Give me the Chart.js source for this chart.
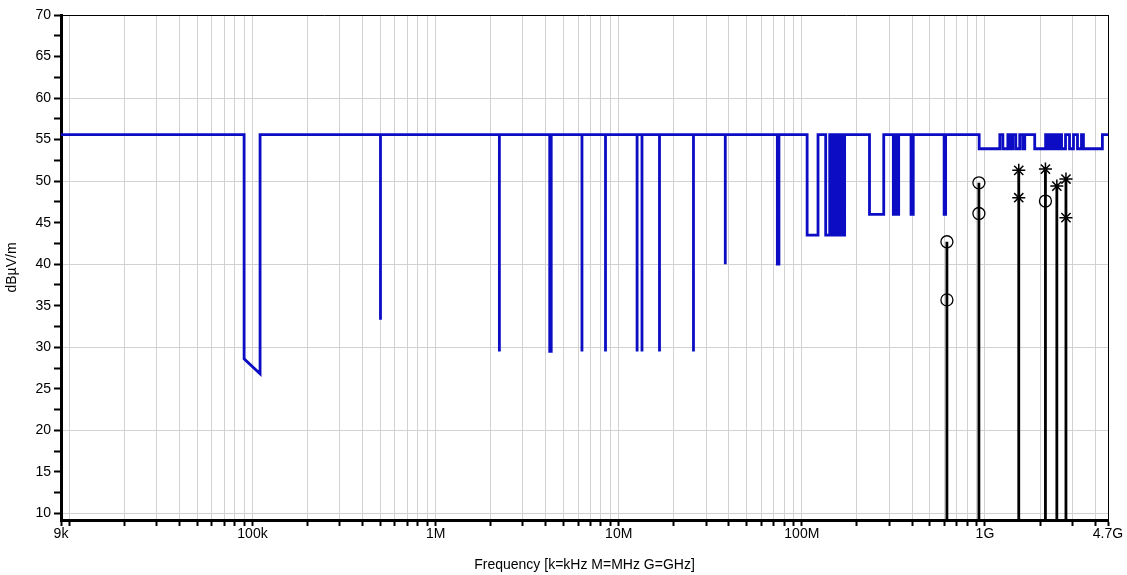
<!DOCTYPE html>
<html>
<head>
<meta charset="utf-8">
<title>Emission scan</title>
<script src="https://cdn.jsdelivr.net/npm/chart.js@4.4.0/dist/chart.umd.min.js"></script>
<style>
  html, body { margin: 0; padding: 0; background: #fff; }
  #wrap { width: 1127px; height: 575px; }
</style>
</head>
<body>
<div id="wrap"><canvas id="scan"></canvas></div>
<script>
// limit line vertices (Hz, dBuV/m), drawn as a polyline in this order
const limitFreq = [
  9e3,
  90e3, 90e3, 110e3, 110e3,
  500e3, 500e3, 500e3,
  2.23e6, 2.23e6, 2.23e6,
  4.2e6, 4.2e6, 4.28e6, 4.28e6,
  6.3e6, 6.3e6, 6.3e6,
  8.47e6, 8.47e6, 8.47e6,
  12.6e6, 12.6e6, 12.6e6,
  13.4e6, 13.4e6, 13.4e6,
  16.7e6, 16.7e6, 16.7e6,
  25.6e6, 25.6e6, 25.6e6,
  38.2e6, 38.2e6, 38.2e6,
  73.5e6, 73.5e6, 75e6, 75e6,
  106.9e6, 106.9e6, 122.6e6, 122.6e6,
  135e6, 135e6, 142e6, 142e6,
  146.8e6, 146.8e6, 151.1e6, 151.1e6,
  154.4e6, 154.4e6, 157.8e6, 157.8e6, 160.9e6, 160.9e6, 163.9e6, 163.9e6, 167e6, 167e6, 171.3e6, 171.3e6,
  234.2e6, 234.2e6, 280.1e6, 280.1e6,
  316e6, 316e6, 324e6, 324e6, 330e6, 330e6, 338e6, 338e6,
  394.8e6, 394.8e6, 406e6, 406e6,
  598.7e6, 598.7e6, 610e6, 610e6,
  930e6, 930e6,
  1.206e9, 1.206e9, 1.253e9, 1.253e9,
  1.334e9, 1.334e9, 1.376e9, 1.376e9,
  1.42e9, 1.42e9, 1.474e9, 1.474e9,
  1.549e9, 1.549e9, 1.609e9, 1.609e9,
  1.65e9, 1.65e9, 1.87e9, 1.87e9,
  2.145e9, 2.145e9, 2.214e9, 2.214e9, 2.27e9, 2.27e9, 2.342e9, 2.342e9,
  2.401e9, 2.401e9, 2.477e9, 2.477e9, 2.54e9, 2.54e9, 2.621e9, 2.621e9,
  2.755e9, 2.755e9, 2.897e9, 2.897e9,
  3.045e9, 3.045e9, 3.202e9, 3.202e9,
  3.367e9, 3.367e9, 3.451e9, 3.451e9,
  4.379e9, 4.379e9, 4.7e9
]
const limitLevel = [
  55.6,
  55.6, 28.6, 26.8, 55.6,
  55.6, 33.3, 55.6,
  55.6, 29.5, 55.6,
  55.6, 29.5, 29.5, 55.6,
  55.6, 29.5, 55.6,
  55.6, 29.5, 55.6,
  55.6, 29.5, 55.6,
  55.6, 29.5, 55.6,
  55.6, 29.5, 55.6,
  55.6, 29.5, 55.6,
  55.6, 40, 55.6,
  55.6, 40, 40, 55.6,
  55.6, 43.5, 43.5, 55.6,
  55.6, 43.5, 43.5, 55.6,
  55.6, 43.5, 43.5, 55.6,
  55.6, 43.5, 43.5, 55.6, 55.6, 43.5, 43.5, 55.6, 55.6, 43.5, 43.5, 55.6,
  55.6, 46, 46, 55.6,
  55.6, 46, 46, 55.6, 55.6, 46, 46, 55.6,
  55.6, 46, 46, 55.6,
  55.6, 46, 46, 55.6,
  55.6, 53.9,
  53.9, 55.6, 55.6, 53.9,
  53.9, 55.6, 55.6, 53.9,
  53.9, 55.6, 55.6, 53.9,
  53.9, 55.6, 55.6, 53.9,
  53.9, 55.6, 55.6, 53.9,
  53.9, 55.6, 55.6, 53.9, 53.9, 55.6, 55.6, 53.9,
  53.9, 55.6, 55.6, 53.9, 53.9, 55.6, 55.6, 53.9,
  53.9, 55.6, 55.6, 53.9,
  53.9, 55.6, 55.6, 53.9,
  53.9, 55.6, 55.6, 53.9,
  53.9, 55.6, 55.6
]

// measured readings
const circleFreq = [620e6, 620e6, 927e6, 927e6, 2.14e9]
const circleLevel = [42.7, 35.7, 49.8, 46.1, 47.6]
const starFreq = [1.53e9, 1.53e9, 2.14e9, 2.47e9, 2.77e9, 2.77e9]
const starLevel = [51.3, 48.0, 51.45, 49.4, 50.25, 45.6]

// axis labels
const xLabelValues = [9e3, 1e5, 1e6, 1e7, 1e8, 1e9, 4.7e9]
const xLabelText = ['9k', '100k', '1M', '10M', '100M', '1G', '4.7G']
const yMin = 9.2
const yMax = 70

const FONT = "'Liberation Sans', Arial, sans-serif"
const GRID = '#d2d2d2'
const BLUE = '#0c0cc4'

// log grid: 1..9 x 10^n inside the range, plus the end labels
const xTickValues = []
for (let n = 3; n <= 9; n++) {
  for (let k = 1; k <= 9; k++) {
    const v = k * Math.pow(10, n)
    if (v >= 9e3 && v < 4.7e9) xTickValues.push(v)
  }
}
xTickValues.push(4.7e9)

const yTickValues = []
for (let v = 10; v <= yMax; v += 2.5) yTickValues.push(v)

function xLabel(value) {
  const i = xLabelValues.findIndex(v => Math.abs(v - value) / v < 1e-6)
  return i >= 0 ? xLabelText[i] : ''
}

// stems: one per measured frequency, from the floor to the highest reading
const stemFreq = [...new Set([...circleFreq, ...starFreq])].sort((a, b) => a - b)
const stemData = []
stemFreq.forEach(f => {
  const levels = []
  circleFreq.forEach((c, i) => { if (c === f) levels.push(circleLevel[i]) })
  starFreq.forEach((s, i) => { if (s === f) levels.push(starLevel[i]) })
  stemData.push({ x: f, y: yMin }, { x: f, y: Math.max(...levels) }, { x: f, y: null })
})

const ctx = document.getElementById('scan').getContext('2d')

new Chart(ctx, {
  type: 'line',
  data: {
    datasets: [{
      label: 'Limit',
      data: limitFreq.map((f, i) => ({ x: f, y: limitLevel[i] })),
      borderColor: BLUE,
      borderWidth: 2.8,
      pointRadius: 0,
      tension: 0,
      fill: false,
      order: 3
    }, {
      label: 'Stems',
      data: stemData,
      borderColor: '#000',
      borderWidth: 2.8,
      pointRadius: 0,
      spanGaps: false,
      tension: 0,
      fill: false,
      order: 2
    }, {
      label: 'Circle',
      data: circleFreq.map((f, i) => ({ x: f, y: circleLevel[i] })),
      showLine: false,
      pointStyle: 'circle',
      pointRadius: 6,
      pointBorderWidth: 1.3,
      pointBorderColor: '#000',
      pointBackgroundColor: 'rgba(255,255,255,0)',
      order: 1
    }, {
      label: 'Star',
      data: starFreq.map((f, i) => ({ x: f, y: starLevel[i] })),
      showLine: false,
      pointStyle: 'star',
      pointRadius: 6.5,
      pointBorderWidth: 1.5,
      pointBorderColor: '#000',
      pointBackgroundColor: '#000',
      order: 1
    }]
  },
  options: {
    responsive: true,
    maintainAspectRatio: false,
    animation: false,
    layout: { padding: { top: 15, right: 19, left: 0, bottom: 0 } },
    plugins: {
      legend: { display: false },
      tooltip: { enabled: false }
    },
    scales: {
      x: {
        type: 'logarithmic',
        min: 9e3,
        max: 4.7e9,
        afterBuildTicks: (scale) => { scale.ticks = xTickValues.map(v => ({ value: v })) },
        afterFit: (scale) => { scale.height = 55 },
        ticks: {
          autoSkip: false,
          maxRotation: 0,
          padding: 0,
          color: '#000',
          font: { family: FONT, size: 14 },
          callback: (value) => xLabel(value)
        },
        grid: {
          color: (c) => {
            const v = c.tick ? c.tick.value : 0
            if (v === 9e3) return 'rgba(0,0,0,0)'
            if (v === 4.7e9) return '#000'
            return GRID
          },
          lineWidth: 1,
          tickLength: 6,
          tickColor: '#000',
          tickWidth: 2
        },
        border: { display: true, color: '#000', width: 3 },
        title: {
          display: true,
          text: 'Frequency [k=kHz M=MHz G=GHz]',
          color: '#000',
          font: { family: FONT, size: 14 },
          padding: { top: 0, bottom: 1 }
        }
      },
      y: {
        type: 'linear',
        min: yMin,
        max: yMax,
        afterBuildTicks: (scale) => { scale.ticks = yTickValues.map(v => ({ value: v })) },
        afterFit: (scale) => { scale.width = 61 },
        ticks: {
          padding: 3,
          color: '#000',
          font: { family: FONT, size: 14 },
          callback: (value) => (value % 5 === 0 ? value : '')
        },
        grid: {
          color: (c) => {
            const v = c.tick ? c.tick.value : 0
            if (v === yMax) return '#000'
            if (v % 10 === 0) return GRID
            return 'rgba(0,0,0,0)'
          },
          lineWidth: 1,
          tickLength: 7,
          tickColor: '#000',
          tickWidth: 2
        },
        border: { display: true, color: '#000', width: 3 },
        title: {
          display: true,
          text: 'dBµV/m',
          color: '#000',
          font: { family: FONT, size: 14 },
          padding: { top: 4, bottom: 0 }
        }
      }
    }
  }
})
</script>
</body>
</html>
